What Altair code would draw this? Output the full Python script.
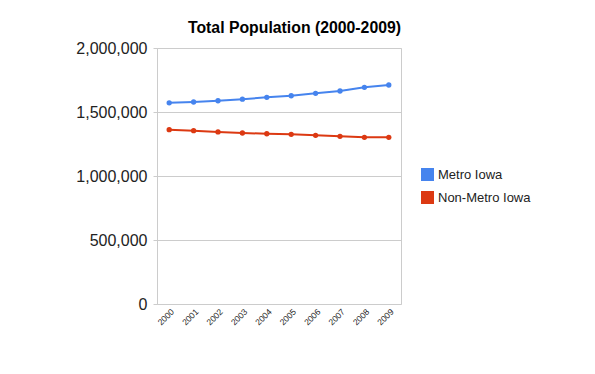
import altair as alt
import pandas as pd

years = ["2000", "2001", "2002", "2003", "2004", "2005", "2006", "2007", "2008", "2009"]
metro = [1572000, 1578000, 1588000, 1600000, 1615000, 1627000, 1646000, 1664000, 1693000, 1711000]
nonmetro = [1362000, 1354000, 1344000, 1336000, 1330000, 1326000, 1318000, 1310000, 1302000, 1302000]
series_names = ["Metro Iowa", "Non-Metro Iowa"]
colors = ["#4684ee", "#dc3912"]

rows = []
for y, m, n in zip(years, metro, nonmetro):
    rows.append({"year": y, "series": series_names[0], "pop": m})
    rows.append({"year": y, "series": series_names[1], "pop": n})
df = pd.DataFrame(rows)

font = "Liberation Sans"

x = alt.X("year:O", scale=alt.Scale(type="point", padding=0.5),
          axis=alt.Axis(title=None, labelAngle=-45, labelFontSize=8.5, labelFont=font,
                        labelColor="#222222", ticks=False, domain=False, labelPadding=3))
y = alt.Y("pop:Q", scale=alt.Scale(domain=[0, 2000000], nice=False),
          axis=alt.Axis(title=None, values=[0, 500000, 1000000, 1500000, 2000000],
                        format=",d", labelFontSize=16, labelFont=font, labelColor="#222222",
                        gridColor="#cccccc", tickColor="#cccccc", tickSize=4,
                        domainColor="#cccccc", labelPadding=6))
color = alt.Color("series:N", scale=alt.Scale(domain=series_names, range=colors),
                  legend=alt.Legend(title=None, orient="none", legendX=264, legendY=120,
                                    symbolType="square", symbolSize=169, symbolStrokeWidth=0,
                                    symbolOpacity=1, labelFontSize=13, labelFont=font,
                                    labelColor="#222222", rowPadding=9, labelOffset=4))

base = alt.Chart(df)
lines = base.mark_line(strokeWidth=2).encode(x=x, y=y, color=color)
points = base.mark_circle(size=28, opacity=1).encode(x=x, y=y, color=alt.Color("series:N", legend=None, scale=alt.Scale(domain=series_names, range=colors)))

chart = (lines + points).properties(
    width=244, height=256,
    title=alt.TitleParams("Total Population (2000-2009)", anchor="end", frame="group", fontSize=15.8,
                          font=font, fontWeight="bold", color="#000000", offset=3),
    autosize=alt.AutoSizeParams(type="none"),
    padding={"left": 149, "top": 40, "right": 186, "bottom": 62},
).configure_view(stroke="#cccccc", strokeWidth=1)

chart.save("out.html", embed_options={"renderer": "svg", "actions": False})
